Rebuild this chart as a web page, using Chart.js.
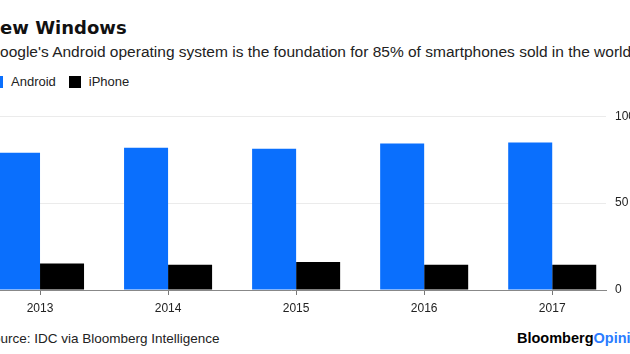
<!DOCTYPE html>
<html>
<head>
<meta charset="utf-8">
<script src="https://cdn.jsdelivr.net/npm/chart.js@4.4.1/dist/chart.umd.min.js"></script>
<style>
html, body { margin: 0; padding: 0; background: #fff; overflow: hidden; width: 630px; height: 354px; }
body { position: relative; font-family: "Liberation Sans", Arial, sans-serif; }
.abs { position: absolute; white-space: nowrap; }
#title { left: -15px; top: 19px; font: bold 18px/18px "DejaVu Sans"; color: #111; }
#sub { left: -12px; top: 44px; font-size: 15.5px; line-height: 15.5px; color: #222; }
#legend { left: -9px; top: 75px; font-size: 13px; line-height: 13px; color: #222; display: flex; align-items: center; }
.sw { display: inline-block; width: 12px; height: 12px; margin-right: 8px; }
.lab { margin-right: 13px; }
#wrap { position: absolute; left: -24px; top: 100px; width: 654px; height: 230px; }
#src { left: -16px; top: 332px; font-size: 13.5px; line-height: 13.5px; color: #222; }
#logo { left: 517px; top: 331px; font: bold 14.5px/14.5px "Liberation Sans"; color: #000; }
#logo span { color: #2b7cff; }
</style>
</head>
<body>
<div id="title" class="abs">New Windows</div>
<div id="sub" class="abs">Google's Android operating system is the foundation for 85% of smartphones sold in the world.</div>
<div id="legend" class="abs"></div>
<div id="wrap"><canvas id="chart"></canvas></div>
<div id="src" class="abs">Source: IDC via Bloomberg Intelligence</div>
<div id="logo" class="abs">Bloomberg<span>Opinion</span></div>
<script>
// data (share of smartphones sold, %)
var years = [2013, 2014, 2015, 2016, 2017];
var android = [79.0, 81.8, 81.2, 84.3, 84.8];
var iphone = [15.2, 14.6, 16.1, 14.6, 14.6];
var seriesNames = ["Android", "iPhone"];
var yTicks = [0, 50, 100];

var colors = ["#0a6ffd", "#000000"];

// legend
var legend = document.getElementById("legend");
for (var i = 0; i < seriesNames.length; i++) {
	var sw = document.createElement("span");
	sw.className = "sw";
	sw.style.background = colors[i];
	var lab = document.createElement("span");
	lab.className = "lab";
	lab.textContent = seriesNames[i];
	legend.appendChild(sw);
	legend.appendChild(lab);
}

function points(vals) {
	return years.map(function(y, i) { return { x: y, y: vals[i] }; });
}

Chart.defaults.font.family = "'Liberation Sans', Arial, sans-serif";

var ctx = document.getElementById("chart").getContext("2d");
var chart = new Chart(ctx, {
	type: "bar",
	data: {
		datasets: [{
			label: seriesNames[0],
			data: points(android),
			backgroundColor: colors[0]
		}, {
			label: seriesNames[1],
			data: points(iphone),
			backgroundColor: colors[1]
		}]
	},
	options: {
		responsive: true,
		maintainAspectRatio: false,
		animation: false,
		layout: { padding: { top: 12, left: 0, right: 0, bottom: 0 } },
		categoryPercentage: 0.6875,
		barPercentage: 1,
		plugins: { legend: { display: false }, tooltip: { enabled: false } },
		scales: {
			x: {
				type: "linear",
				position: "bottom",
				offset: false,
				min: 2012.5,
				max: 2017.42,
				afterBuildTicks: function(s) { s.ticks = years.map(function(v) { return { value: v }; }); },
				afterFit: function(s) { s.height = 40; },
				grid: { offset: false, drawOnChartArea: false, drawTicks: true, tickLength: 5, color: "#777" },
				border: { display: true, color: "#888", width: 1 },
				ticks: {
					padding: 6,
					color: "#222",
					font: { size: 12 },
					maxRotation: 0,
					callback: function(v) { return String(v); }
				}
			},
			y: {
				position: "right",
				min: 0,
				max: 100,
				afterBuildTicks: function(s) { s.ticks = yTicks.map(function(v) { return { value: v }; }); },
				afterFit: function(s) { s.width = 24; },
				grid: { color: "#ebebeb", drawTicks: false },
				border: { display: false },
				ticks: { padding: 9, color: "#222", font: { size: 12 } }
			}
		}
	}
});
</script>
</body>
</html>
